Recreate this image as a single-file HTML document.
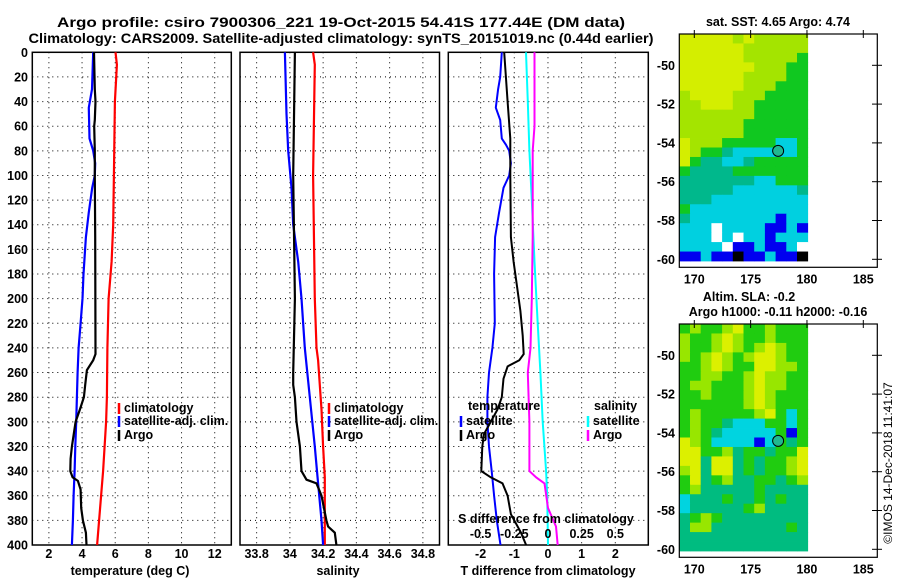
<!DOCTYPE html>
<html><head><meta charset="utf-8"><style>
html,body{margin:0;padding:0;background:#fff;}
svg{display:block;font-family:"Liberation Sans",Arial,sans-serif;}
.b{font-weight:bold;}
</style></head><body>
<svg id="chart" width="900" height="580" viewBox="0 0 900 580" xmlns="http://www.w3.org/2000/svg">
<text class="b" x="341" y="27" font-size="14" text-anchor="middle" textLength="568" lengthAdjust="spacingAndGlyphs">Argo profile: csiro 7900306_221 19-Oct-2015 54.41S 177.44E (DM data)</text>
<text class="b" x="341" y="43" font-size="14" text-anchor="middle" textLength="625" lengthAdjust="spacingAndGlyphs">Climatology: CARS2009. Satellite-adjusted climatology: synTS_20151019.nc (0.44d earlier)</text>
<text class="b" x="778" y="26" font-size="12.5" text-anchor="middle">sat. SST: 4.65 Argo: 4.74</text>
<text class="b" x="749" y="301" font-size="12.5" text-anchor="middle">Altim. SLA: -0.2</text>
<text class="b" x="778" y="316" font-size="12.5" text-anchor="middle">Argo h1000: -0.11 h2000: -0.16</text>
<text x="0" y="0" font-size="12" text-anchor="middle" transform="translate(892,463) rotate(-90)">©IMOS 14-Dec-2018 11:41:07</text>
</svg>
<script>
// ---------- data ----------
const depthTicks=[0,20,40,60,80,100,120,140,160,180,200,220,240,260,280,300,320,340,360,380,400];
const tempTicks=[2,4,6,8,10,12];
const salTicks=[33.8,34,34.2,34.4,34.6,34.8];
const salTickLabels=["33.8","34","34.2","34.4","34.6","34.8"];
const tdiffTicks=[-2,-1,0,1,2];
const sdiffTicks=[-0.5,-0.25,0,0.25,0.5];
const sdiffTickLabels=["-0.5","-0.25","0","0.25","0.5"];

const tClimDepth=[0,10,40,100,140,170,200,240,280,300,340,360,380,400];
const tClimVal=[6.02,6.1,5.98,5.92,5.88,5.78,5.6,5.53,5.5,5.45,5.27,5.15,5.03,4.91];
const tSatDepth=[0,30,45,70,80,90,100,110,130,150,180,200,220,240,260,300,320,340,360,380,400];
const tSatVal=[4.67,4.6,4.41,4.45,4.67,4.79,4.77,4.61,4.41,4.23,4.09,4.03,3.91,3.79,3.73,3.65,3.59,3.55,3.49,3.45,3.39];
const tArgoDepth=[0,30,40,55,60,80,100,150,245,250,258,270,280,290,300,320,330,340,345,348,355,370,380,390,400];
const tArgoVal=[4.72,4.77,4.81,4.77,4.73,4.77,4.77,4.79,4.81,4.67,4.29,4.19,4.11,3.87,3.61,3.39,3.31,3.29,3.43,3.75,3.91,3.95,4.05,4.23,4.27];

const sClimDepth=[0,10,100,200,240,250,270,290,320,345,400];
const sClimVal=[34.14,34.15,34.14,34.15,34.16,34.17,34.18,34.19,34.2,34.21,34.21];
const sSatDepth=[0,50,80,110,140,170,200,240,280,320,350,380,400];
const sSatVal=[33.97,33.98,33.99,34.01,34.02,34.05,34.07,34.09,34.12,34.15,34.17,34.19,34.2];
const sArgoDepth=[0,100,200,260,270,280,300,320,340,347,350,360,380,385,390,400];
const sArgoVal=[34.03,34.02,34.03,34.02,34.02,34.03,34.04,34.06,34.07,34.1,34.16,34.19,34.22,34.23,34.27,34.28];

const dtSatDepth=[0,20,30,45,55,70,75,80,90,100,110,130,150,180,220,240,260,280,300,320,340,360,380,400];
const dtSatVal=[-1.37,-1.42,-1.48,-1.55,-1.42,-1.37,-1.25,-1.15,-1.1,-1.15,-1.32,-1.45,-1.57,-1.6,-1.58,-1.65,-1.75,-1.8,-1.8,-1.75,-1.67,-1.6,-1.52,-1.41];
const dtArgoDepth=[0,40,70,100,150,170,190,210,230,245,250,255,265,280,290,310,320,340,345,350,360,375,390,400];
const dtArgoVal=[-1.3,-1.2,-1.12,-1.12,-1.1,-1.02,-0.92,-0.82,-0.75,-0.72,-0.85,-1.2,-1.32,-1.37,-1.5,-1.9,-1.95,-1.98,-1.7,-1.35,-1.2,-1.1,-0.8,-0.65];
const dsSatDepth=[0,40,80,120,170,220,260,300,340,360,400];
const dsSatVal=[-0.163,-0.15,-0.138,-0.12,-0.1,-0.076,-0.056,-0.039,-0.014,-0.006,0];
const dsArgoDepth=[0,60,80,150,200,240,260,300,340,345,350,370,385,400];
const dsArgoVal=[-0.1,-0.1,-0.113,-0.113,-0.12,-0.13,-0.15,-0.138,-0.138,-0.088,-0.026,0,0.06,0.072];

const latTicks=[-50,-52,-54,-56,-58,-60];
const lonTicks=[170,175,180,185];
const argoLon=177.44, argoLat=-54.41;
const sstGrid=[
"YYYYYLYLLLLL","YYYYYYLLLLLL","YYYYYYLLLLLG","YYYYYYYLLLGG","YYYYYYLLLLGG","YYYYYYLLLGGG",
"LYYYYLLLGGGG","LLYYYLLGGGGG","LLLLLLLGGGGG","LLLLLLGGGGGG","LLLLLLGGGGGG","YLLLGGGGGCCG",
"YLGGTCCCCCCG","YGTTCCTGGGGG","GTTTTGGGGGGG","TTTTTTTCCGGG","TTTTTCCCCCCT","TTTCCCCCCCCC",
"GCCCCCCCCCCC","TCCCCCCCCBCC","CCCWCCCCBBCB","CCCWCWCCBCCC","CCCCWBBCBBCW","BBCBBKBBCBBK"];
const slaGrid=[
"GLGGLYGGLGGG","LGGLYLGGLGGG","LGGLYLGLYLGG","LGLYLGLYYLGG","GGLYLGGYYLLG","GGLLGGLYLLGG",
"GLLGGGLYLLGG","GGLGGGLYLGGG","GGGGGGLYLGGG","GLGGGGGLYGCG","GLGGECCCGGCG","GLGECCCCCGBG",
"YLGCCCCBCGEG","YYGGLEGGEGGY","YYEYYEGEGGLY","LYEYYEGEGGLY","GYEGLEEGGEGL","GLEEEEEGEEEE",
"CEEEGEEGEGEE","CEEEEEGLEEEE","EGLGEEEEEEEE","ELLEEEEEEEGE","EEEEEEEEEEEE","EEEEEEEEEEEE"];
const sstColors={Y:"#d4ee00",L:"#a4e400",G:"#10c820",T:"#00b88c",C:"#00d0e0",B:"#0000f0",K:"#000000",W:"#ffffff"};
const slaColors={Y:"#dcf000",L:"#98e600",G:"#20cc10",E:"#00bc80",C:"#00d4e0",B:"#0000f0"};

// ---------- helpers ----------
const NS="http://www.w3.org/2000/svg";
const svg=document.getElementById('chart');
function mk(tag,attrs,parent){const e=document.createElementNS(NS,tag);for(const k in attrs)e.setAttribute(k,attrs[k]);(parent||svg).appendChild(e);return e;}
const Y0=52.3,Y1=545;
const yD=d=>Y0+(d/400)*(Y1-Y0);
function lin(d0,d1,r0,r1){return v=>r0+(v-d0)/(d1-d0)*(r1-r0);}

function panel(name,x0,x1,dom,ticks,labels){
  const g=mk('g',{});
  
  
  const xs=lin(dom[0],dom[1],x0,x1);
  depthTicks.forEach(d=>{
    if(d>0&&d<400){const l=mk('line',{x1:x0,x2:x1,y1:yD(d),y2:yD(d),stroke:'#000','stroke-width':1,'stroke-dasharray':'1 4'},g);
    
    }
  });
  ticks.forEach((t,i)=>{
    const l=mk('line',{x1:xs(t),x2:xs(t),y1:Y0,y2:Y1,stroke:'#000','stroke-width':1,'stroke-dasharray':'1 4'},g);
    
    
    if(labels){const tx=mk('text',{x:xs(t),y:558,'font-size':12.5,'text-anchor':'middle',class:'b'},g);tx.textContent=labels[i];
    
    }
  });
  const r=mk('rect',{x:x0,y:Y0,width:x1-x0,height:Y1-Y0,fill:'none',stroke:'#000','stroke-width':1.5},g);
  
  
  return {g,xs};
}
function series(p,name,depths,vals,color,w){
  const pts=depths.map((d,i)=>p.xs(vals[i]).toFixed(1)+','+yD(d).toFixed(1)).join(' ');
  const pl=mk('polyline',{points:pts,fill:'none',stroke:color,'stroke-width':w,'stroke-linejoin':'miter'},p.g);
  
  
}
function legend(g,x,y,color,label){
  const l=mk('line',{x1:x,x2:x,y1:y-9,y2:y+2,stroke:color,'stroke-width':2.5},g);
  
  
  const t=mk('text',{x:x+5,y:y,'font-size':12.5,class:'b'},g);t.textContent=label;
  
  
}

// depth axis labels
depthTicks.forEach(d=>{const t=mk('text',{x:28,y:yD(d)+4.5,'font-size':12.5,'text-anchor':'end',class:'b'});t.textContent=d;

});

// panel 1
const p1=panel('temperature-panel',32.3,231.3,[1,13],tempTicks,tempTicks.map(String));
series(p1,'temp-climatology-line',tClimDepth,tClimVal,'#ff0000',2.2);
series(p1,'temp-satellite-line',tSatDepth,tSatVal,'#0000ff',2.2);
series(p1,'temp-argo-line',tArgoDepth,tArgoVal,'#000000',2.2);
legend(p1.g,119,412,'#ff0000','climatology');
legend(p1.g,119,425,'#0000ff','satellite-adj. clim.');
legend(p1.g,119,439,'#000000','Argo');
let t1=mk('text',{x:130,y:575,'font-size':12.5,'text-anchor':'middle',class:'b'},p1.g);t1.textContent='temperature (deg C)';



// panel 2
const p2=panel('salinity-panel',240,439.5,[33.7,34.9],salTicks,salTickLabels);
series(p2,'sal-climatology-line',sClimDepth,sClimVal,'#ff0000',2.2);
series(p2,'sal-satellite-line',sSatDepth,sSatVal,'#0000ff',2.2);
series(p2,'sal-argo-line',sArgoDepth,sArgoVal,'#000000',2.2);
legend(p2.g,329,412,'#ff0000','climatology');
legend(p2.g,329,425,'#0000ff','satellite-adj. clim.');
legend(p2.g,329,439,'#000000','Argo');
let t2=mk('text',{x:338,y:575,'font-size':12.5,'text-anchor':'middle',class:'b'},p2.g);t2.textContent='salinity';



// panel 3
const p3=panel('difference-panel',448.3,648.3,[-2.96,2.98],tdiffTicks,tdiffTicks.map(String));
const p3s={g:p3.g,xs:v=>p3.xs(v*4)};
series(p3,'tdiff-satellite-line',dtSatDepth,dtSatVal,'#0000ff',2);
series(p3,'tdiff-argo-line',dtArgoDepth,dtArgoVal,'#000000',2);
series(p3s,'sdiff-satellite-line',dsSatDepth,dsSatVal,'#00ffff',2);
series(p3s,'sdiff-argo-line',dsArgoDepth,dsArgoVal,'#ff00ff',2);
let lt=mk('text',{x:468,y:410,'font-size':12.5,class:'b'},p3.g);lt.textContent='temperature';


legend(p3.g,461,425,'#0000ff','satellite');
legend(p3.g,461,439,'#000000','Argo');
let ls=mk('text',{x:594,y:410,'font-size':12.5,class:'b'},p3.g);ls.textContent='salinity';


legend(p3.g,588,425,'#00ffff','satellite');
legend(p3.g,588,439,'#ff00ff','Argo');
let sdt=mk('text',{x:546,y:523,'font-size':12.5,'text-anchor':'middle',class:'b'},p3.g);sdt.textContent='S difference from climatology';


sdiffTicks.forEach((s,i)=>{const t=mk('text',{x:p3s.xs(s),y:538,'font-size':12.5,'text-anchor':'middle',class:'b'},p3.g);t.textContent=sdiffTickLabels[i];

});
let t3=mk('text',{x:548,y:575,'font-size':12.5,'text-anchor':'middle',class:'b'},p3.g);t3.textContent='T difference from climatology';



// maps
function map(name,top,grid,colors,lat50,lat60,bottomData,frameBottom){
  const g=mk('g',{});
  
  
  const lx=lin(170,185,694.3,863.3), ly=lin(-50,-60,lat50,lat60);
  const L=679.3,R=807.7, rows=grid.length, cols=grid[0].length;
  const cw=(R-L)/cols, ch=(bottomData-top)/rows;
  grid.forEach((row,i)=>{for(let j=0;j<cols;j++){
    const c=mk('rect',{x:(L+j*cw).toFixed(2),y:(top+i*ch).toFixed(2),width:(cw+0.4).toFixed(2),height:(ch+0.4).toFixed(2),fill:colors[row[j]]},g);
    
    
  }});
  const ci=mk('circle',{cx:lx(argoLon),cy:ly(argoLat),r:5.5,fill:'#20b890',stroke:'#000','stroke-width':1},g);
  
  
  const fr=mk('rect',{x:L,y:top,width:877.3-L,height:frameBottom-top,fill:'none',stroke:'#000','stroke-width':1.2},g);
  
  
  latTicks.forEach(v=>{
    const tk=mk('line',{x1:872,x2:882,y1:ly(v),y2:ly(v),stroke:'#000','stroke-width':1},g);
    
    
    const t=mk('text',{x:675,y:ly(v)+4.5,'font-size':12.5,'text-anchor':'end',class:'b'},g);t.textContent=v;
    
    
  });
  lonTicks.forEach(v=>{
    const tk=mk('line',{x1:lx(v),x2:lx(v),y1:top-4,y2:top+4,stroke:'#000','stroke-width':1},g);
    
    
    const t=mk('text',{x:lx(v),y:frameBottom+16,'font-size':12.5,'text-anchor':'middle',class:'b'},g);t.textContent=v;
    
    
  });
}
map('sst-map',34,sstGrid,sstColors,65.3,259.3,261,267.3);
map('sla-map',324,slaGrid,slaColors,355.3,549.3,551,557.3);
</script>
</body></html>
